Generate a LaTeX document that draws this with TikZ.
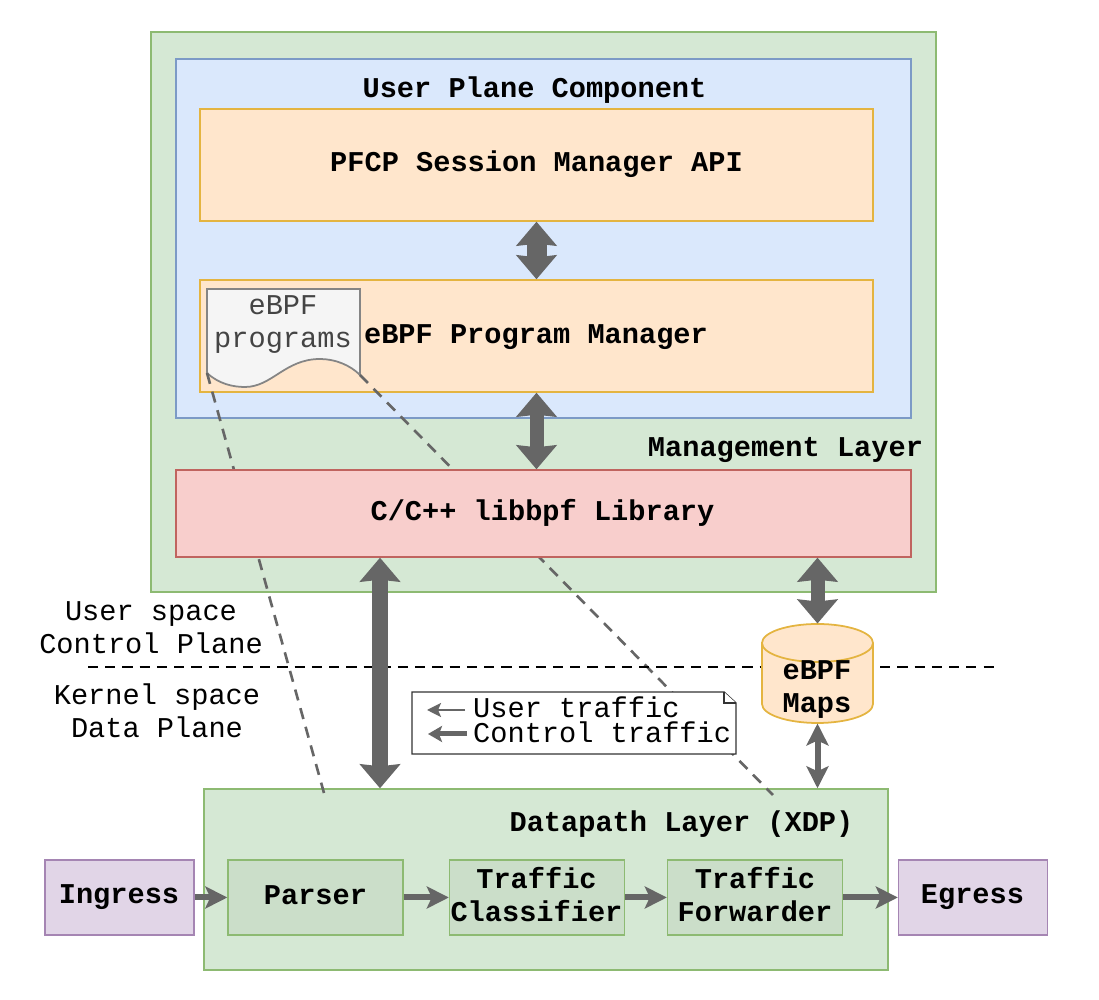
\documentclass[tikz,border=0pt]{standalone}
\usepackage{fontspec}
\setmainfont{Liberation Mono}
\usetikzlibrary{arrows.meta}

\definecolor{greenfill}{HTML}{D5E8D4}
\definecolor{greenline}{HTML}{8DBA72}
\definecolor{innerfill}{HTML}{CBDEC9}
\definecolor{bluefill}{HTML}{DAE8FC}
\definecolor{blueline}{HTML}{7C9AC6}
\definecolor{orangefill}{HTML}{FFE6CC}
\definecolor{orangeline}{HTML}{E4B440}
\definecolor{redfill}{HTML}{F8CECC}
\definecolor{redline}{HTML}{C0645F}
\definecolor{purplefill}{HTML}{E1D5E7}
\definecolor{purpleline}{HTML}{A585B3}
\definecolor{docfill}{HTML}{F5F5F5}
\definecolor{arrowgray}{HTML}{666666}
\definecolor{doctext}{HTML}{444444}

\tikzset{
  lbl/.style={font=\fontsize{8.15}{9.4}\selectfont,align=center,inner sep=0pt},
  blbl/.style={lbl,font=\fontsize{8.15}{9.4}\selectfont\bfseries},
  greenbox/.style={draw=greenline,fill=greenfill,line width=0.4pt,inner sep=0pt},
  bluebox/.style={draw=blueline,fill=bluefill,line width=0.4pt,inner sep=0pt},
  orangebox/.style={blbl,draw=orangeline,fill=orangefill,line width=0.4pt},
  redbox/.style={blbl,draw=redline,fill=redfill,line width=0.4pt},
  portbox/.style={blbl,draw=purpleline,fill=purplefill,line width=0.4pt,minimum width=1.49cm,minimum height=0.75cm},
  innerbox/.style={blbl,draw=greenline,fill=innerfill,line width=0.4pt,minimum width=1.75cm,minimum height=0.75cm},
  wide/.style={line width=0.2cm,arrowgray,{Stealth[width=0.4cm,length=0.24cm,inset=0.02cm]}-{Stealth[width=0.4cm,length=0.24cm,inset=0.02cm]}},
  thin/.style={line width=0.06cm,arrowgray,{Stealth[width=0.22cm,length=0.22cm,inset=0.05cm]}-{Stealth[width=0.22cm,length=0.22cm,inset=0.05cm]}},
  flow/.style={line width=0.06cm,arrowgray,-{Stealth[width=0.22cm,length=0.22cm,inset=0.05cm]}},
  link/.style={arrowgray,line width=0.75pt,dash pattern=on 3.2pt off 2.3pt},
}

\begin{document}
\begin{tikzpicture}[x=1cm,y=-1cm]
\useasboundingbox (0,0) rectangle (10.99,10);

% management layer
\node[greenbox,minimum width=7.85cm,minimum height=5.6cm] (mgmt) at (5.435,3.12) {};
\node[bluebox,minimum width=7.35cm,minimum height=3.59cm] (user) at (5.435,2.385) {};
\node[blbl] (usertitle) at (5.345,0.9) {User Plane Component};
\node[orangebox,minimum width=6.73cm,minimum height=1.12cm] (pfcp) at (5.365,1.65) {};
\node[blbl] (pfcptext) at (5.365,1.64) {PFCP Session Manager API};
\node[orangebox,minimum width=6.73cm,minimum height=1.12cm] (progmgr) at (5.365,3.36) {};
\node[blbl] (progtext) at (5.36,3.375) {eBPF Program Manager};
\node[blbl] (mgmttitle) at (7.855,4.505) {Management Layer};

% datapath layer
\node[greenbox,minimum width=6.84cm,minimum height=1.81cm] (xdp) at (5.46,8.795) {};
\node[blbl] (xdptitle) at (6.815,8.24) {Datapath Layer (XDP)};
\node[portbox] (ingress) at (1.195,8.975) {};
\node[blbl] (ingresstext) at (1.19,8.97) {Ingress};
\node[innerbox] (parser) at (3.155,8.975) {};
\node[blbl] (parsertext) at (3.155,8.95) {Parser};
\node[innerbox] (classifier) at (5.37,8.975) {};
\node[blbl] (classifiertext) at (5.365,8.945) {Traffic\\Classifier};
\node[innerbox] (forwarder) at (7.55,8.975) {};
\node[blbl] (forwardertext) at (7.55,8.945) {Traffic\\Forwarder};
\node[portbox] (egress) at (9.73,8.975) {};
\node[blbl] (egresstext) at (9.725,8.97) {Egress};

% document
\coordinate (docnw) at (2.07,2.89);
\coordinate (docne) at (3.6,2.89);
\coordinate (docsw) at (2.07,3.73);
\coordinate (docse) at (3.6,3.75);
\draw[draw=arrowgray!80,fill=docfill,line width=0.5pt] (docnw) -- (docne) -- (docse)
  .. controls (3.5,3.65) and (3.35,3.59) .. (3.2,3.59)
  .. controls (2.85,3.59) and (2.72,3.87) .. (2.45,3.87)
  .. controls (2.33,3.87) and (2.19,3.84) .. (docsw) -- cycle;
\node[lbl,doctext] (doctitle) at (2.83,3.25) {eBPF\\programs};

% dashed links
\coordinate (xdpleft) at (3.24,7.93);
\coordinate (xdpright) at (7.73,7.95);
\draw[link] (docsw) -- (xdpleft);
\draw[link] (docse) -- (xdpright);

\node[redbox,minimum width=7.35cm,minimum height=0.87cm] (lib) at (5.435,5.135) {};
\node[blbl] (libtext) at (5.425,5.13) {C/C++ libbpf Library};

% kernel boundary
\coordinate (sepleft) at (0.88,6.67);
\coordinate (sepright) at (9.95,6.67);
\draw[black,line width=0.7pt,dash pattern=on 2.9pt off 2pt] (sepleft) -- (sepright);
\node[lbl] (userspace) at (1.51,6.275) {User space\\Control Plane};
\node[lbl] (kernelspace) at (1.57,7.105) {Kernel space\\Data Plane};

% legend
\coordinate (legnw) at (4.12,6.92);
\coordinate (legne) at (7.36,7.03);
\coordinate (legse) at (7.36,7.54);
\coordinate (legsw) at (4.12,7.54);
\coordinate (legfold) at (7.24,6.92);
\draw[fill=white,line width=0.4pt,draw=black!80] (legnw) -- (legfold) -- (legne) -- (legse) -- (legsw) -- cycle;
\draw[fill=white,line width=0.4pt,draw=black!80] (legfold) -- (7.24,7.03) -- (legne);
\node[lbl,align=left,anchor=west,font=\fontsize{8.15}{7.1}\selectfont] (legend) at (4.725,7.195) {User traffic\\Control traffic};
\coordinate (userfrom) at (4.65,7.1);
\coordinate (userto) at (4.27,7.1);
\coordinate (ctrlfrom) at (4.67,7.34);
\coordinate (ctrlto) at (4.28,7.34);
\draw[line width=0.025cm,arrowgray,-{Stealth[width=0.14cm,length=0.14cm,inset=0.03cm]}] (userfrom) -- (userto);
\draw[line width=0.05cm,arrowgray,-{Stealth[width=0.16cm,length=0.14cm,inset=0.03cm]}] (ctrlfrom) -- (ctrlto);

% maps
\node[minimum width=1.11cm,minimum height=1cm,inner sep=0pt,outer sep=0pt] (maps) at (8.175,6.735) {};
\draw[draw=orangeline,fill=orangefill,line width=0.5pt] (maps.north west |- 0,6.43) -- (maps.south west |- 0,7.04)
  arc[start angle=180,end angle=360,x radius=0.555cm,y radius=0.19cm] -- (maps.north east |- 0,6.43)
  arc[start angle=0,end angle=180,x radius=0.555cm,y radius=0.19cm] -- cycle;
\draw[draw=orangeline,line width=0.5pt] (maps.north west |- 0,6.43)
  arc[start angle=180,end angle=360,x radius=0.555cm,y radius=0.19cm];
\node[blbl] (mapstext) at (8.17,6.9) {eBPF\\Maps};

% arrows
\draw[wide] (pfcp.south) -- (progmgr.north);
\draw[wide,line width=0.14cm] (progmgr.south) -- (progmgr.south |- lib.north);
\draw[wide,line width=0.16cm] (lib.south -| 3.8,0) -- (xdp.north -| 3.8,0);
\draw[wide,line width=0.14cm] (lib.south -| maps.north) -- (maps.north);
\draw[thin] (maps.south) -- (maps.south |- xdp.north);
\draw[flow] (ingress.east) -- (parser.west);
\draw[flow] (parser.east) -- (classifier.west);
\draw[flow] (classifier.east) -- (forwarder.west);
\draw[flow] (forwarder.east) -- (egress.west);
\end{tikzpicture}
\end{document}
